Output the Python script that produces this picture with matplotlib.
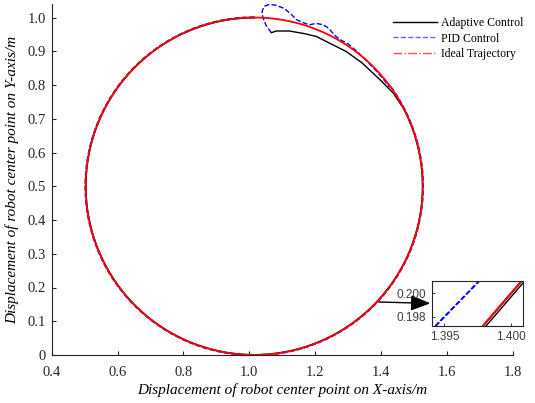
import numpy as np
import matplotlib
matplotlib.use("Agg")
import matplotlib.pyplot as plt
from matplotlib.lines import Line2D

plt.rcParams['font.family'] = ['Liberation Serif', 'DejaVu Serif']

# ---------------- data ----------------
# ideal trajectory (circle as drawn on the main axes)
ideal_cx, ideal_cy = 1.015, 0.5
ideal_rx, ideal_ry = 0.512, 0.5
ideal_start_deg, ideal_end_deg = 90.0, -270.0

# adaptive control: start-up transient, then on the path (slightly inside)
adaptive_x = [1.067, 1.082, 1.121, 1.166, 1.203, 1.242, 1.293, 1.342, 1.403, 1.438]
adaptive_y = [0.955, 0.960, 0.960, 0.9525, 0.944, 0.925, 0.900, 0.866, 0.810, 0.775]
adaptive_merge_deg = 28.0
adaptive_offset = -0.001

# PID control: start-up loop and bumps, then on the path (slightly outside)
pid_x = [1.067, 1.052, 1.041, 1.039, 1.045, 1.058, 1.079, 1.106, 1.127, 1.142,
         1.166, 1.182, 1.195, 1.2055, 1.222, 1.236, 1.250, 1.262, 1.280, 1.300,
         1.330, 1.360, 1.385, 1.405, 1.425]
pid_y = [0.955, 0.975, 1.000, 1.018, 1.033, 1.038, 1.037, 1.027, 1.010, 0.994,
         0.984, 0.978, 0.981, 0.982, 0.979, 0.972, 0.958, 0.945, 0.932, 0.922,
         0.897, 0.868, 0.842, 0.820, 0.795]
pid_merge_deg = 37.0
pid_offset = 0.0015

# zoomed inset (segment ends at the bottom / top of the inset)
inset_y = [0.1972, 0.2011]
inset_ideal_x = [1.39787, 1.40081]
inset_adaptive_x1 = [1.39791, 1.40085]
inset_adaptive_x2 = [1.39812, 1.40106]
inset_pid_x1 = [1.39430, 1.39762]
inset_pid_x2 = [1.39436, 1.39768]

# arrow (main-axes data coordinates)
arrow_from = (1.393, 0.157)
arrow_to = (1.5497, 0.153)

legend_labels = ['Adaptive Control', 'PID Control', 'Ideal Trajectory']
x_ticks = [0.4, 0.6, 0.8, 1.0, 1.2, 1.4, 1.6, 1.8]
y_ticks = [0, 0.1, 0.2, 0.3, 0.4, 0.5, 0.6, 0.7, 0.8, 0.9, 1.0]
y_tick_labels = ['0', '0.1', '0.2', '0.3', '0.4', '0.5', '0.6', '0.7', '0.8', '0.9', '1.0']
inset_x_ticks = [1.395, 1.400]
inset_y_ticks = [0.198, 0.200]


def ring(a0, a1, dr=0.0):
    t = np.deg2rad(np.linspace(a0, a1, int(abs(a1 - a0) * 4) + 2))
    return (ideal_cx + (ideal_rx + dr) * np.cos(t),
            ideal_cy + (ideal_ry + dr) * np.sin(t))


ix, iy = ring(ideal_start_deg, ideal_end_deg)
ax_r, ay_r = ring(adaptive_merge_deg, ideal_end_deg, adaptive_offset)
px_r, py_r = ring(pid_merge_deg, ideal_end_deg, pid_offset)
ad_x = np.concatenate([adaptive_x, ax_r])
ad_y = np.concatenate([adaptive_y, ay_r])
pd_x = np.concatenate([pid_x, px_r])
pd_y = np.concatenate([pid_y, py_r])

# ---------------- figure ----------------
fig = plt.figure(figsize=(5.35, 4.03), dpi=100)
ax = fig.add_axes([51.7 / 535, 1 - 355 / 403, (512.7 - 51.7) / 535, 351 / 403])

ax.plot(ad_x, ad_y, color='k', lw=1.0, zorder=2)
ax.plot(pd_x, pd_y, color='b', lw=1.0, ls='--', zorder=3)
ax.plot(ix, iy, color='r', lw=1.3, zorder=4)

ax.set_xlim(0.4, 1.8)
ax.set_ylim(0, 1.04)
ax.set_xticks(x_ticks)
ax.set_xticklabels([f'{v:.1f}' for v in x_ticks])
ax.set_yticks(y_ticks)
ax.set_yticklabels(y_tick_labels)
ax.tick_params(direction='in', length=3, width=0.8, labelsize=10.5, colors='#262626')
ax.tick_params(axis='x', pad=8)
ax.tick_params(axis='y', pad=4)
for s in ['top', 'right']:
    ax.spines[s].set_visible(False)
for s in ['left', 'bottom']:
    ax.spines[s].set_color('#262626')
    ax.spines[s].set_linewidth(0.8)

ax.set_xlabel('Displacement of robot center point on X-axis/m', fontsize=11,
              style='italic', labelpad=3)
ax.set_ylabel('Displacement of robot center point on Y-axis/m', fontsize=11,
              style='italic', labelpad=6)

handles = [Line2D([], [], color='k', lw=1.0, ls='-'),
           Line2D([], [], color='b', lw=1.0, ls='--', alpha=0.6),
           Line2D([], [], color='r', lw=1.0, ls='-.', alpha=0.7)]
fig.legend(handles, legend_labels, loc='upper left',
           bbox_to_anchor=(393 / 535, 1 - 17 / 403), frameon=False,
           fontsize=8.5, handlelength=3.7, handletextpad=0.35,
           labelspacing=0.3, borderpad=0, borderaxespad=0)

ax.annotate('', xy=arrow_to, xytext=arrow_from,
            arrowprops=dict(arrowstyle='-|>,head_length=1.0,head_width=0.4',
                            color='k', lw=1.0, mutation_scale=12,
                            shrinkA=0, shrinkB=0))

# ---------------- inset ----------------
axin = fig.add_axes([431.7 / 535, 1 - 325.7 / 403, 91.6 / 535, 45 / 403])
axin.plot(inset_pid_x1, inset_y, color='b', lw=1.0, ls='--')
axin.plot(inset_pid_x2, inset_y, color='b', lw=1.0, ls='--')
axin.plot(inset_adaptive_x1, inset_y, color='k', lw=1.0)
axin.plot(inset_adaptive_x2, inset_y, color='k', lw=1.0)
axin.plot(inset_ideal_x, inset_y, color='r', lw=1.4)
axin.set_xlim(1.39405, 1.40092)
axin.set_ylim(0.19723, 0.20108)
axin.set_xticks(inset_x_ticks)
axin.set_xticklabels([f'{v:.3f}' for v in inset_x_ticks])
axin.set_yticks(inset_y_ticks)
axin.set_yticklabels([f'{v:.3f}' for v in inset_y_ticks])
axin.tick_params(direction='in', length=2.5, width=0.8, labelsize=8.5,
                 colors='#404040', pad=4)
for lab in axin.get_xticklabels() + axin.get_yticklabels():
    lab.set_fontfamily('Liberation Sans')
for s in axin.spines.values():
    s.set_color('#262626')
    s.set_linewidth(0.8)

fig.savefig('out.png', dpi=100)
